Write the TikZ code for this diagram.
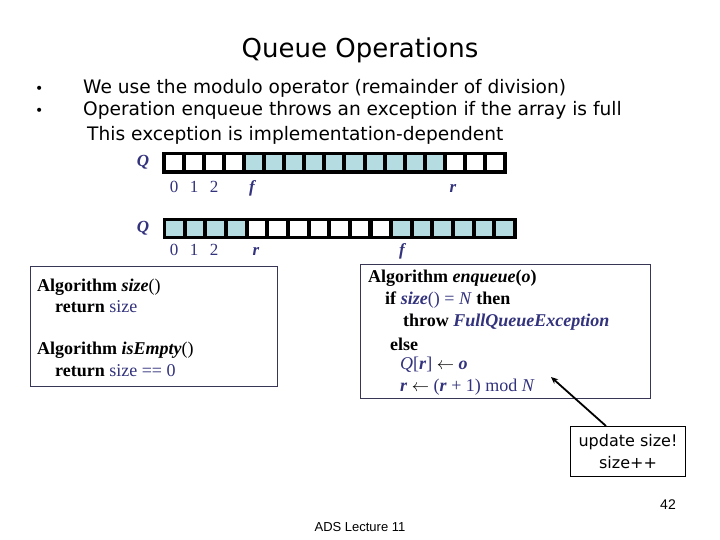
\documentclass[tikz,border=0pt]{standalone}
\usepackage{fontspec}
\setmainfont{Liberation Serif}
\newfontfamily\comic{DejaVu Sans}
\newfontfamily\arial{Liberation Sans}
\usetikzlibrary{arrows.meta,calc}
\definecolor{navy}{RGB}{50,50,125}
\definecolor{qteal}{RGB}{180,220,225}
\definecolor{boxline}{RGB}{55,55,85}
\begin{document}
\begin{tikzpicture}[x=1pt,y=-1pt,
  title/.style={font=\comic\fontsize{26}{30}\selectfont},
  bul/.style={anchor=west,inner sep=0pt,font=\comic\fontsize{18.6}{22}\selectfont},
  lab/.style={inner sep=0pt,text=navy,font=\fontsize{17}{20}\selectfont},
  alg/.style={anchor=west,inner sep=0pt,font=\fontsize{18}{21}\selectfont},
  algbox/.style={draw=boxline,line width=1.2pt,anchor=north west,inner sep=0pt},
  callout/.style={draw=black,line width=1pt,anchor=north west,inner sep=0pt},
  foot/.style={inner sep=0pt,font=\arial\fontsize{14}{16}\selectfont}]
\useasboundingbox (0,0) rectangle (720,540);
\fill[white] (0,0) rectangle (720,540);
% title and bullets
\node[title] (ttl) at (360,50) {Queue Operations};
\node[bul] (d1) at (35,90) {\fontsize{14}{14}\selectfont •};
\node[bul] (d2) at (35,112) {\fontsize{14}{14}\selectfont •};
\node[bul] (b1) at (83,88) {We use the modulo operator (remainder of division)};
\node[bul] (b2) at (83,110) {Operation enqueue throws an exception if the array is full};
\node[bul] (b3) at (87,135) {This exception is implementation-dependent};
% array 1
\node[lab,font=\bfseries\itshape\fontsize{17}{20}\selectfont] (q1) at (143,162) {Q};
\fill[black] (162,152) rectangle (507,174);
\foreach \i in {0,...,16}{
  \pgfmathsetmacro\xa{165.5+\i*20.1}
  \pgfmathtruncatemacro\t{and(\i>3,\i<14)}
  \ifnum\t=1 \def\cc{qteal}\else\def\cc{white}\fi
  \fill[\cc] (\xa,155.5) rectangle ++(16.1,15);
}
\node[lab] (a1n0) at (174,187) {0};
\node[lab] (a1n1) at (194,187) {1};
\node[lab] (a1n2) at (214,187) {2};
\node[lab,font=\bfseries\itshape\fontsize{17}{20}\selectfont] (a1f) at (252,188) {f};
\node[lab,font=\bfseries\itshape\fontsize{17}{20}\selectfont] (a1r) at (453,188) {r};
% array 2
\node[lab,font=\bfseries\itshape\fontsize{17}{20}\selectfont] (q2) at (143,228) {Q};
\fill[black] (163,218) rectangle (517,239);
\foreach \i in {0,...,16}{
  \pgfmathsetmacro\xa{166+\i*20.65}
  \pgfmathtruncatemacro\t{or(\i<4,\i>10)}
  \ifnum\t=1 \def\cc{qteal}\else\def\cc{white}\fi
  \fill[\cc] (\xa,221) rectangle ++(16.6,15);
}
\node[lab] (a2n0) at (174,250) {0};
\node[lab] (a2n1) at (194,250) {1};
\node[lab] (a2n2) at (214,250) {2};
\node[lab,font=\bfseries\itshape\fontsize{17}{20}\selectfont] (a2r) at (256,251) {r};
\node[lab,font=\bfseries\itshape\fontsize{17}{20}\selectfont] (a2f) at (402,251) {f};
% left algorithm box
\node[algbox,minimum width=247,minimum height=120] (lbox) at (30,266) {};
\node[alg] (l1) at (37,287) {\textbf{Algorithm \textit{size}}()};
\node[alg] (l2) at (55,307) {\textbf{return} \textcolor{navy}{size}};
\node[alg] (l3) at (37,350) {\textbf{Algorithm \textit{isEmpty}}()};
\node[alg] (l4) at (55,371) {\textbf{return} \textcolor{navy}{size == 0}};
% right algorithm box
\node[algbox,minimum width=290,minimum height=134] (rbox) at (360,264) {};
\node[alg] (r1) at (368,278) {\textbf{Algorithm \textit{enqueue}(\textit{o})}};
\node[alg] (r2) at (385,300) {\textbf{if} \textcolor{navy}{\textbf{\textit{size}}() = \textit{N}} \textbf{then}};
\node[alg] (r3) at (403,322) {\textbf{throw \textcolor{navy}{\textit{FullQueueException}}}};
\node[alg] (r4) at (390,344) {\textbf{else}};
\node[alg] (r5) at (400,365) {\textcolor{navy}{\textit{Q}[\textbf{\textit{r}}]} $\leftarrow$ \textcolor{navy}{\textbf{\textit{o}}}};
\node[alg] (r6) at (400,387) {\textcolor{navy}{\textbf{\textit{r}}} $\leftarrow$ \textcolor{navy}{(\textbf{\textit{r}} + 1) mod \textit{N}}};
% callout
\node[callout,minimum width=115,minimum height=50] (upd) at (570,426) {};
\node[inner sep=0pt,align=center,font=\comic\fontsize{16}{22}\selectfont] (updt) at (upd.center) {update size!\\size++};
\coordinate (tip) at (551,377);
\draw[line width=1.8pt,-{Stealth[length=7pt,width=6pt]}] ($(upd.north west)+(36,0)$) -- (tip);
% footer
\node[foot] (pg) at (668,505) {42};
\node[foot,font=\arial\fontsize{13}{15}\selectfont] (ft) at (360,527) {ADS Lecture 11};
\end{tikzpicture}
\end{document}
